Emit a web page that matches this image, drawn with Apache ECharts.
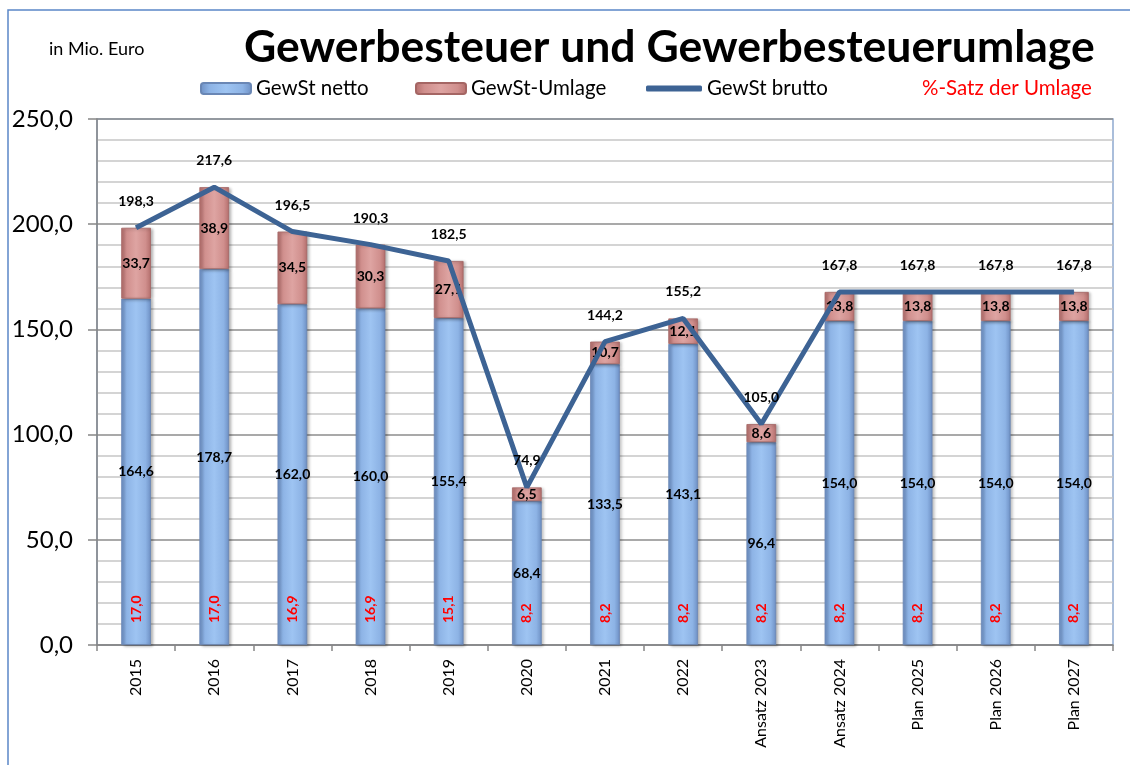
<!DOCTYPE html>
<html><head><meta charset="utf-8">
<script src="https://cdn.jsdelivr.net/npm/echarts@6/dist/echarts.min.js"></script>
<style>html,body{margin:0;padding:0;background:#fff}#c{width:1130px;height:765px}</style>
</head><body><div id="c"></div>
<script>
const categories = ['2015','2016','2017','2018','2019','2020','2021','2022','Ansatz 2023','Ansatz 2024','Plan 2025','Plan 2026','Plan 2027'];
const gewstNetto = [164.6,178.7,162.0,160.0,155.4,68.4,133.5,143.1,96.4,154.0,154.0,154.0,154.0];
const gewstUmlage = [33.7,38.9,34.5,30.3,27.1,6.5,10.7,12.1,8.6,13.8,13.8,13.8,13.8];
const gewstBrutto = [198.3,217.6,196.5,190.3,182.5,74.9,144.2,155.2,105.0,167.8,167.8,167.8,167.8];
const satzUmlage = [17.0,17.0,16.9,16.9,15.1,8.2,8.2,8.2,8.2,8.2,8.2,8.2,8.2];
const yTicks = [0,50,100,150,200,250];

const FONT = 'Lato';
const fmt = v => Number(v).toFixed(1).replace('.', ',');
const grad = (c) => ({type:'linear',x:0,y:0,x2:1,y2:0,colorStops:[
  {offset:0,color:c[0]},{offset:0.18,color:c[1]},{offset:0.5,color:c[2]},{offset:0.82,color:c[1]},{offset:1,color:c[0]}]});
const blue = grad(['#6d8fc3','#8db3e5','#9ec4f2']);
const pink = grad(['#b46e6c','#d08f8d','#dea4a2']);

const chart = echarts.init(document.getElementById('c'));
const legendBase = {top:73, itemWidth:50, itemHeight:11, itemGap:5, textStyle:{fontFamily:FONT,fontSize:20.5,color:'#000'}, selectedMode:false};
const lg = (o) => Object.assign({}, legendBase, o);
chart.setOption({
  animation:false,
  textStyle:{fontFamily:FONT},
  title:{text:'Gewerbesteuer und Gewerbesteuerumlage', left:239, top:20,
    textStyle:{fontFamily:FONT,fontWeight:'bold',fontSize:44.5,color:'#000'}},
  graphic:[
    {type:'rect',shape:{x:8,y:10,width:1140,height:800},style:{fill:'none',stroke:'#5b87c8',lineWidth:1.5},silent:true},
    {type:'text',left:49,top:40,style:{text:'in Mio. Euro',font:'18px '+FONT,fill:'#000'}}
  ],
  legend:[
    lg({left:195,data:['GewSt netto']}),
    lg({left:410,data:['GewSt-Umlage']}),
    lg({left:641,itemWidth:56,itemHeight:6,data:[{name:'GewSt brutto',icon:'roundRect',itemStyle:{color:'#3d6394'}}]}),
    lg({left:912,itemWidth:0,data:[{name:'%-Satz der Umlage',icon:'none',textStyle:{color:'#ff0000'}}]})
  ],
  grid:{left:97,right:17,top:119,bottom:120,show:true,borderColor:'#8fa9cf',borderWidth:1.5,containLabel:false},
  xAxis:{type:'category',data:categories,
    axisLine:{lineStyle:{color:'#868686',width:1.5}},
    axisTick:{show:true,length:6,lineStyle:{color:'#868686',width:1.5}},
    axisLabel:{rotate:90,fontSize:16,color:'#000',fontFamily:FONT,margin:14}},
  yAxis:{type:'value',min:yTicks[0],max:yTicks[yTicks.length-1],interval:50,
    axisLine:{show:true,lineStyle:{color:'#868686',width:1.5}},
    axisTick:{show:true,length:9,lineStyle:{color:'#868686',width:1.5}},
    axisLabel:{fontSize:24,color:'#000',fontFamily:FONT,margin:24,formatter:fmt},
    splitLine:{lineStyle:{color:'#8c8c8c',width:1.5}},
    minorTick:{show:false,splitNumber:5},
    minorSplitLine:{show:true,lineStyle:{color:'#c6c6c6',width:1.5}}},
  series:[
    {name:'GewSt netto',type:'bar',stack:'a',data:gewstNetto,barWidth:'38%',barGap:'-100%',
      itemStyle:{color:blue,borderColor:'#6a87b5',borderWidth:0.8,shadowColor:'rgba(0,0,0,0.3)',shadowBlur:3,shadowOffsetX:2,shadowOffsetY:1},
      label:{show:true,position:'inside',formatter:p=>fmt(p.value),fontWeight:'bold',fontSize:14,color:'#000',fontFamily:FONT}},
    {name:'GewSt-Umlage',type:'bar',stack:'a',data:gewstUmlage,barWidth:'38%',barGap:'-100%',
      itemStyle:{color:pink,borderColor:'#a56664',borderWidth:0.8,shadowColor:'rgba(0,0,0,0.3)',shadowBlur:3,shadowOffsetX:2,shadowOffsetY:1},
      label:{show:true,position:'inside',formatter:p=>fmt(p.value),fontWeight:'bold',fontSize:14,color:'#000',fontFamily:FONT}},
    {name:'%-Satz der Umlage',type:'bar',stack:'b',data:satzUmlage,barWidth:'38%',barGap:'-100%',
      itemStyle:{color:'rgba(0,0,0,0)'},
      label:{show:true,position:'insideBottom',distance:22,rotate:90,align:'left',verticalAlign:'middle',
        formatter:p=>fmt(p.value),fontWeight:'bold',fontSize:14,color:'#ff0000',fontFamily:FONT}},
    {name:'GewSt brutto',type:'line',data:gewstBrutto,symbol:'circle',symbolSize:1,showSymbol:true,
      lineStyle:{color:'#3d6394',width:5},itemStyle:{color:'#3d6394'},
      label:{show:true,position:'top',distance:19,formatter:p=>fmt(p.value),fontWeight:'bold',fontSize:14,color:'#000',fontFamily:FONT},
      labelLayout:{hideOverlap:false},
      z:5}
  ]
});
</script></body></html>
